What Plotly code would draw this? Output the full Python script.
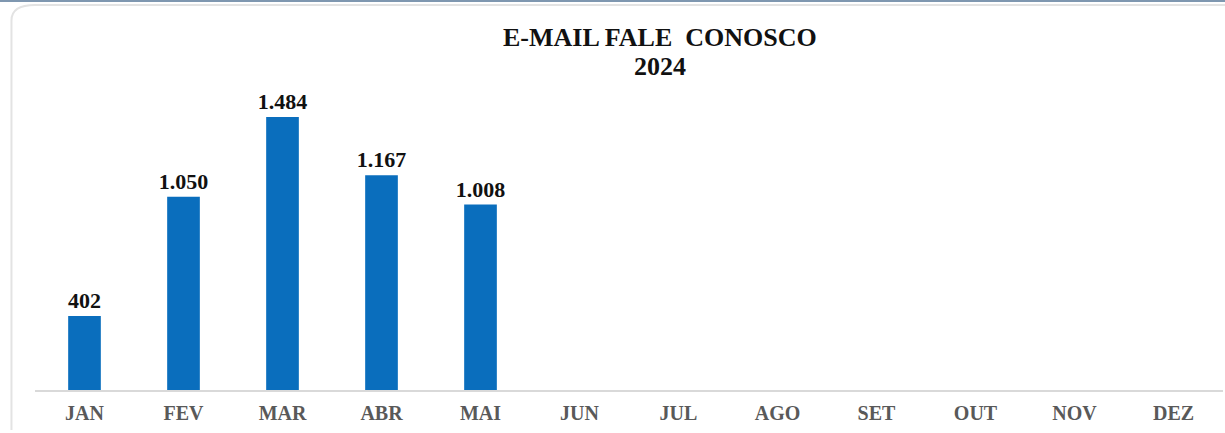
import plotly.graph_objects as go

months = ["JAN", "FEV", "MAR", "ABR", "MAI", "JUN", "JUL", "AGO", "SET", "OUT", "NOV", "DEZ"]
emails = [402, 1050, 1484, 1167, 1008, None, None, None, None, None, None, None]
title_lines = ["E-MAIL FALE  CONOSCO", "2024"]

SERIF = "Liberation Serif, Times New Roman, serif"

fig = go.Figure(go.Bar(
    x=months, y=emails,
    marker=dict(color="#0a6ebd", line=dict(width=0)),
    texttemplate="%{y:,.0f}", textposition="outside", constraintext="none",
    textfont=dict(family=SERIF, size=22, color="#111111", weight="bold"),
    cliponaxis=False,
))

title_y = [1.0667, 0.9818]
fig.update_layout(
    width=1225, height=433,
    margin=dict(l=35, r=2, t=60, b=43),
    paper_bgcolor="white", plot_bgcolor="white",
    separators=",.",
    bargap=0.67,
    showlegend=False,
    xaxis=dict(showgrid=False, zeroline=False, showline=True, linecolor="#d9d9d9", linewidth=2,
               ticks="", ticklabelstandoff=4,
               tickfont=dict(family=SERIF, size=20, color="#595959", weight="bold")),
    yaxis=dict(visible=False, range=[0, 1794]),
    annotations=[dict(text=t, xref="paper", yref="paper", x=0.526, y=yy,
                      xanchor="center", yanchor="middle", showarrow=False,
                      font=dict(family=SERIF, size=26, color="#111111", weight="bold"))
                 for t, yy in zip(title_lines, title_y)],
    shapes=[
        dict(type="line", xref="paper", yref="paper", x0=-0.03, x1=1.01, y0=1.1788, y1=1.1788,
             line=dict(color="#7f97b0", width=2)),
        dict(type="path", xref="paper", yref="paper",
             path="M -0.0198,-0.121 L -0.0198,1.12 Q -0.0198,1.1667 0.0,1.1667 L 1.01,1.1667",
             line=dict(color="#e3e3e3", width=2)),
    ],
)

fig.write_html("out.html", config={"displayModeBar": False},
               post_script="document.body.style.margin='0';")
